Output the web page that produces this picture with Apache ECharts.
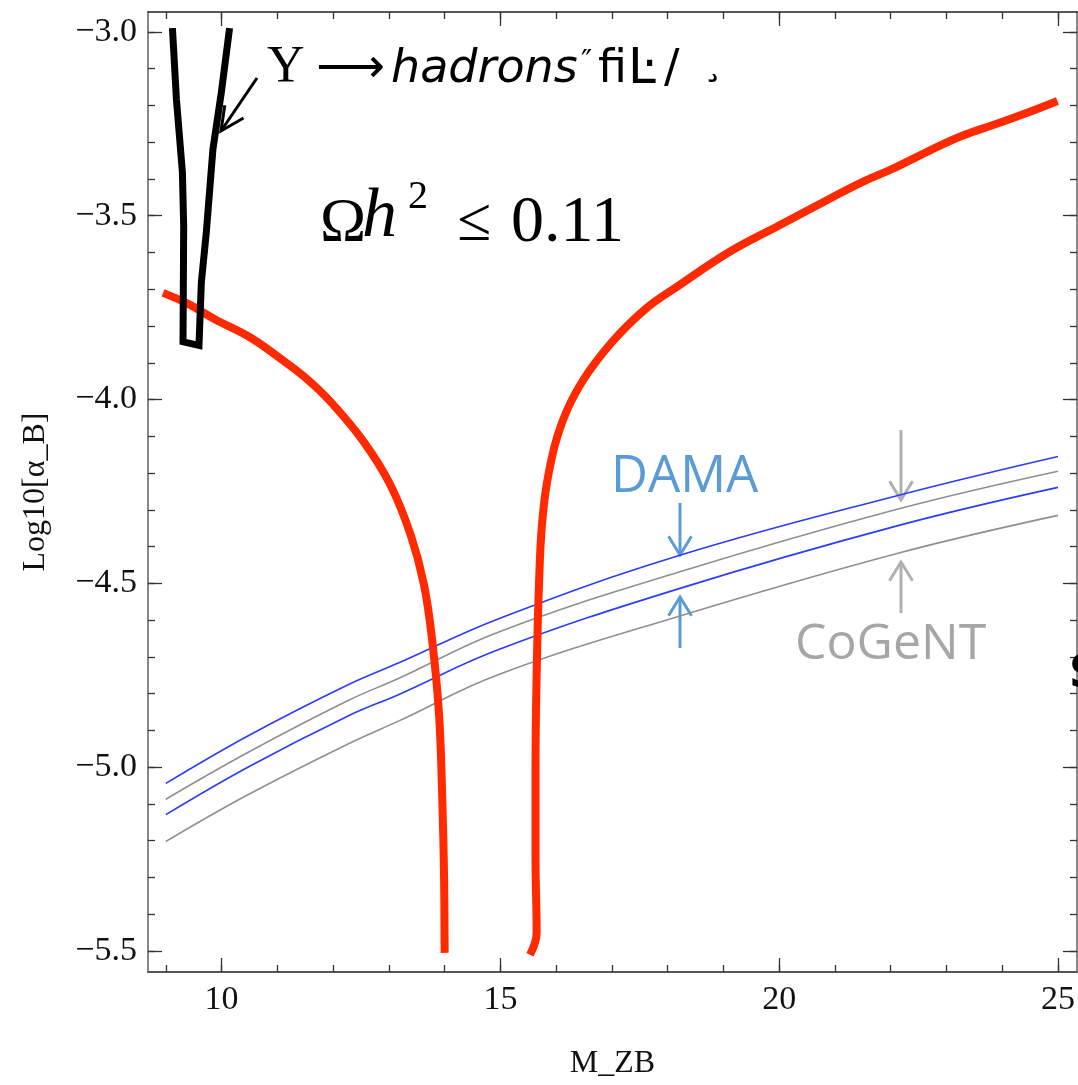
<!DOCTYPE html>
<html>
<head>
<meta charset="utf-8">
<script src="https://cdn.jsdelivr.net/npm/echarts@6/dist/echarts.min.js"></script>
<style>
  html, body { margin: 0; padding: 0; background: #fff; }
  #chart { width: 1078px; height: 1085px; }
</style>
</head>
<body>
<div id="chart"></div>
<script>
// axis ranges and ticks
const X_MIN = 8.68, X_MAX = 25.34;
const Y_MIN = -5.557, Y_MAX = -2.946;
const xMajor = [10, 15, 20, 25];
const xMinor = [9, 10, 11, 12, 13, 14, 15, 16, 17, 18, 19, 20, 21, 22, 23, 24, 25];
const yMajor = [-5.5, -5.0, -4.5, -4.0, -3.5, -3.0];
const yMinor = [-5.5, -5.4, -5.3, -5.2, -5.1, -5.0, -4.9, -4.8, -4.7, -4.6, -4.5, -4.4, -4.3, -4.2,
  -4.1, -4.0, -3.9, -3.8, -3.7, -3.6, -3.5, -3.4, -3.3, -3.2, -3.1, -3.0];

// relic density contour (Omega h^2 = 0.11), two branches
const redLeftX = [8.95, 9.4, 9.87, 10.5, 11.06, 11.5, 11.96, 12.55, 13.03, 13.39, 13.63, 13.78, 13.90, 13.96, 13.99, 14.0];
const redLeftY = [-3.71, -3.74, -3.781, -3.83, -3.889, -3.94, -4.007, -4.115, -4.233, -4.368, -4.504, -4.66, -4.857, -5.10, -5.30, -5.505];
const redRightX = [15.53, 15.65, 15.63, 15.63, 15.65, 15.69, 15.75, 15.87, 16.11, 16.46, 17.0, 17.6, 18.19, 19.09,
  19.98, 20.88, 21.47, 22.07, 22.67, 23.26, 23.86, 24.45, 24.99];
const redRightY = [-5.51, -5.45, -5.25, -5.0, -4.75, -4.513, -4.332, -4.197, -4.061, -3.953, -3.844, -3.754, -3.691, -3.600,
  -3.528, -3.456, -3.410, -3.370, -3.325, -3.284, -3.252, -3.220, -3.188];

// Upsilon -> hadrons bound
const hadX = [9.118, 9.19, 9.297, 9.32, 9.308, 9.594, 9.637, 9.726, 9.844, 9.995, 10.143];
const hadY = [-2.99, -3.184, -3.382, -3.529, -3.843, -3.853, -3.681, -3.545, -3.32, -3.165, -2.99];

// DAMA (blue) and CoGeNT (gray) bands
const bandX = [9.0, 10.47, 12.25, 13.18, 14.97, 18.19, 22.13, 25.0];
const damaUp = [-5.044, -4.915, -4.777, -4.716, -4.596, -4.425, -4.261, -4.155];
const damaLow = [-5.129, -5.000, -4.862, -4.802, -4.680, -4.515, -4.343, -4.239];
const cogentUp = [-5.087, -4.960, -4.820, -4.758, -4.632, -4.470, -4.298, -4.195];
const cogentLow = [-5.202, -5.075, -4.938, -4.874, -4.748, -4.590, -4.418, -4.315];

function zip (xs, ys) {
  return xs.map((x, i) => [x, ys[i]]);
}

function curve (name, xs, ys, color, width, smooth) {
  return {
    name: name,
    type: 'line',
    data: zip(xs, ys),
    showSymbol: false,
    symbol: 'none',
    smooth: smooth,
    lineStyle: { color: color, width: width, cap: 'butt', join: 'miter' },
    z: 3,
  };
}

// open V arrow annotation, pixel coords
function arrow (x1, y1, x2, y2, color, width, head, spread) {
  const a = Math.atan2(y2 - y1, x2 - x1);
  const p1 = [x2 - head * Math.cos(a - spread), y2 - head * Math.sin(a - spread)];
  const p2 = [x2 - head * Math.cos(a + spread), y2 - head * Math.sin(a + spread)];
  return [
    { type: 'polyline', shape: { points: [[x1, y1], [x2, y2]] }, style: { stroke: color, lineWidth: width, fill: null } },
    { type: 'polyline', shape: { points: [p1, [x2, y2], p2] }, style: { stroke: color, lineWidth: width, fill: null } },
  ];
}

function txt (text, x, y, font, color, va) {
  return {
    type: 'text',
    x: x, y: y,
    style: { text: text, font: font, fill: color || '#000', verticalAlign: va || 'middle', align: 'left' },
    z: 10,
  };
}

const serif = '"Liberation Serif", "Times New Roman", serif';
const tickColor = '#333';

function xAx (pos, ticks, len, showLine, showLabel) {
  return {
    type: 'value', position: pos, min: X_MIN, max: X_MAX,
    splitLine: { show: false },
    axisLine: { show: showLine, onZero: false, lineStyle: { color: pos === 'bottom' ? '#555' : '#222', width: pos === 'bottom' ? 2 : 1.5 } },
    axisTick: { show: true, inside: true, length: len, customValues: ticks, lineStyle: { color: tickColor, width: 1.3 } },
    axisLabel: showLabel ? {
      show: true, customValues: xMajor, fontFamily: serif, fontSize: 34, color: '#111', margin: 11,
    } : { show: false },
  };
}

function yAx (pos, ticks, len, showLine, showLabel) {
  return {
    type: 'value', position: pos, min: Y_MIN, max: Y_MAX,
    splitLine: { show: false },
    axisLine: { show: showLine, onZero: false, lineStyle: { color: '#888', width: 2 } },
    axisTick: { show: true, inside: true, length: len, customValues: ticks, lineStyle: { color: tickColor, width: 1.3 } },
    axisLabel: showLabel ? {
      show: true, customValues: yMajor, fontFamily: serif, fontSize: 34, color: '#111', margin: 11,
      formatter: v => v.toFixed(1).replace('-', '\u2212'),
    } : { show: false },
  };
}

const xAxes = [
  xAx('bottom', xMajor, 14, true, true),
  xAx('bottom', xMinor, 7, false, false),
  xAx('top', xMajor, 14, true, false),
  xAx('top', xMinor, 7, false, false),
];
Object.assign(xAxes[0], {
  name: 'M_ZB', nameLocation: 'middle', nameGap: 76,
  nameTextStyle: { fontFamily: serif, fontSize: 32, color: '#111' },
});

const yAxes = [
  yAx('left', yMajor, 14, true, true),
  yAx('left', yMinor, 7, false, false),
  yAx('right', yMajor, 14, true, false),
  yAx('right', yMinor, 7, false, false),
];
Object.assign(yAxes[0], {
  name: 'Log10[\u03b1_B]', nameLocation: 'middle', nameGap: 96, nameRotate: 90,
  nameTextStyle: { fontFamily: serif, fontSize: 32, color: '#111' },
});

const graphics = [].concat(
  arrow(257, 78, 221, 131, '#000', 3, 26, 0.45),
  arrow(680, 503, 680, 555, '#5b9bd5', 3, 22, 0.55),
  arrow(680, 648, 680, 597, '#5b9bd5', 3, 22, 0.55),
  arrow(901, 430, 901, 500, '#b0b0b0', 3, 22, 0.55),
  arrow(901, 613, 901, 562, '#b0b0b0', 3, 22, 0.55),
  [
    txt('\u03a5', 267, 68, '52px ' + serif),
    txt('\u27f6', 316, 70, '48px "DejaVu Sans"'),
    txt('hadrons', 391, 70, 'italic 46px "DejaVu Sans"'),
    txt('\u2033', 581, 48, '30px "DejaVu Sans"', '#000', 'top'),
    txt('\ufb01', 598, 70, '46px "DejaVu Sans"'),
    txt('\u013f', 628, 70, '50px "DejaVu Sans"'),
    txt('/', 664, 70, '46px "DejaVu Sans"'),
    txt('\u00b8', 703, 64, '40px "DejaVu Sans"'),
    txt('\u03a9', 320, 224, '62px ' + serif),
    txt('h', 362, 218, 'italic 70px ' + serif),
    txt('2', 408, 197, '40px ' + serif),
    txt('\u2264', 457, 224, '62px ' + serif),
    txt('0.11', 511, 224, '66px ' + serif),
    txt('DAMA', 611, 477, '51px "Open Sans"', '#5b9bd5'),
    txt('CoGeNT', 795, 645, '50px "Open Sans"', '#a6a6a6'),
    txt('S', 1069, 676, 'bold 44px "DejaVu Sans"'),
  ]
);

const chart = echarts.init(document.getElementById('chart'), null, { renderer: 'canvas' });
chart.setOption({
  animation: false,
  backgroundColor: '#fff',
  grid: { left: 148, right: 1, top: 12, bottom: 110, containLabel: false },
  xAxis: xAxes,
  yAxis: yAxes,
  series: [
    curve('CoGeNT upper', bandX, cogentUp, '#8f8f8f', 1.6, 0.4),
    curve('CoGeNT lower', bandX, cogentLow, '#8f8f8f', 1.6, 0.4),
    curve('DAMA upper', bandX, damaUp, '#2b3bff', 1.6, 0.4),
    curve('DAMA lower', bandX, damaLow, '#2b3bff', 1.6, 0.4),
    curve('relic left', redLeftX, redLeftY, '#ff2a00', 8, 0.4),
    curve('relic right', redRightX, redRightY, '#ff2a00', 8, 0.4),
    curve('Upsilon', hadX, hadY, '#000', 7, false),
  ],
  graphic: graphics,
});
</script>
</body>
</html>
